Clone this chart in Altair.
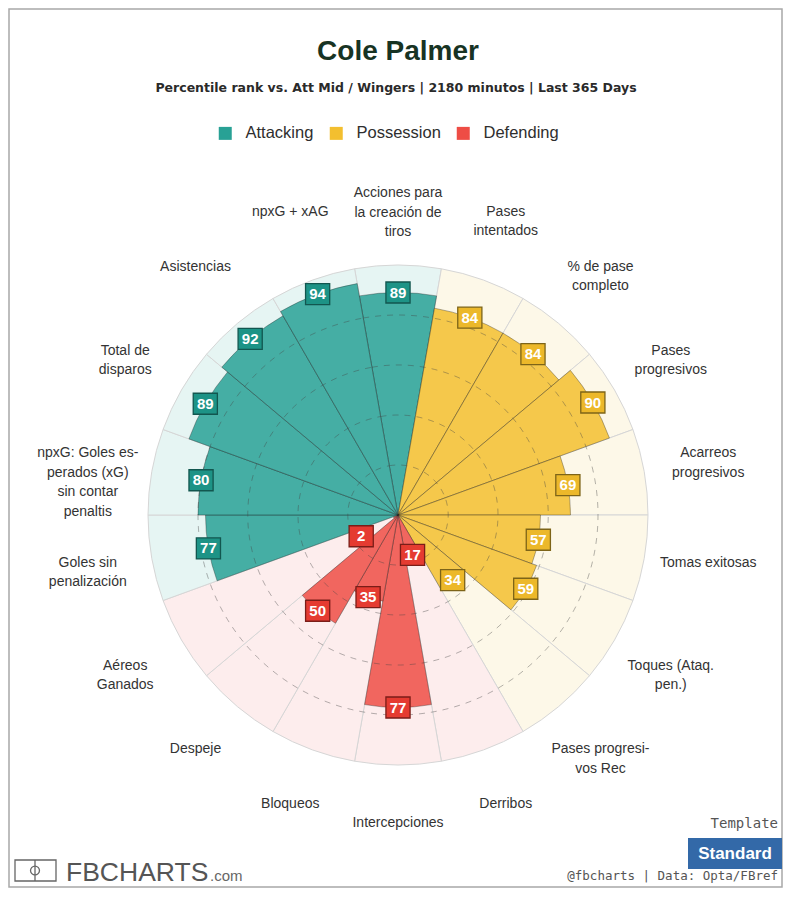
import math
import altair as alt
import pandas as pd

# ---------------- data ----------------
categories = [
    "Acciones para\nla creación de\ntiros",
    "Pases\nintentados",
    "% de pase\ncompleto",
    "Pases\nprogresivos",
    "Acarreos\nprogresivos",
    "Tomas exitosas",
    "Toques (Ataq.\npen.)",
    "Pases progresi-\nvos Rec",
    "Derribos",
    "Intercepciones",
    "Bloqueos",
    "Despeje",
    "Aéreos\nGanados",
    "Goles sin\npenalización",
    "npxG: Goles es-\nperados (xG)\nsin contar\npenaltis",
    "Total de\ndisparos",
    "Asistencias",
    "npxG + xAG",
]
values = [89, 84, 84, 90, 69, 57, 59, 34, 17, 77, 35, 50, 2, 77, 80, 89, 92, 94]
groups = ["Attacking", "Possession", "Possession", "Possession", "Possession",
          "Possession", "Possession", "Possession", "Defending", "Defending",
          "Defending", "Defending", "Defending", "Attacking", "Attacking",
          "Attacking", "Attacking", "Attacking"]
group_names = ["Attacking", "Possession", "Defending"]
grid_levels = [20, 40, 60, 80]

title_text = "Cole Palmer"
subtitle_text = "Percentile rank vs. Att Mid / Wingers | 2180 minutos | Last 365 Days"

bar_colors = ["#28a195", "#f3bf2f", "#ee4d45"]
bg_colors = ["#e6f5f3", "#fdf8e8", "#fdeded"]
box_colors = ["#1d9386", "#ecb82a", "#e53b31"]
box_borders = ["#12564f", "#7d6418", "#7a1d18"]

df = pd.DataFrame({"cat": categories, "value": values, "group": groups,
                   "i": list(range(len(categories)))})
grid_df = pd.DataFrame({"level": grid_levels})
one = pd.DataFrame({"k": [0]})

n = len(categories)
half = math.pi / n
theta_scale = alt.Scale(domain=[0, n], range=[-half, 2 * math.pi - half])
r_scale = alt.Scale(type="linear", domain=[0, 100], range=[0, 250])
x_scale = alt.Scale(domain=[-100, 100])
y_scale = alt.Scale(domain=[-100, 100])

FONT = "Liberation Sans"
RECT = "M-1.15,-1L1.15,-1L1.15,1L-1.15,1Z"

base = alt.Chart(df).transform_calculate(
    i2="datum.i + 1"
).transform_calculate(
    ic="datum.i + 0.5"
).transform_calculate(
    full="100"
)

bg = base.mark_arc(stroke="#d6d6d6", strokeWidth=1).encode(
    theta=alt.Theta("i:Q", scale=theta_scale, stack=False),
    theta2="i2:Q",
    radius=alt.Radius("full:Q", scale=r_scale),
    fill=alt.Fill("group:N", scale=alt.Scale(domain=group_names, range=bg_colors),
                  legend=None),
)

bars = base.mark_arc(stroke="#222222", strokeOpacity=0.35, strokeWidth=1,
                     fillOpacity=0.85).encode(
    theta=alt.Theta("i:Q", scale=theta_scale, stack=False),
    theta2="i2:Q",
    radius=alt.Radius("value:Q", scale=r_scale),
    color=alt.Color(
        "group:N",
        scale=alt.Scale(domain=group_names, range=bar_colors),
        legend=alt.Legend(
            title=None, orient="none", legendX=69, legendY=-140,
            direction="horizontal", symbolType="square", symbolSize=169,
            symbolStrokeWidth=0, symbolOpacity=1, labelFont=FONT,
            labelFontSize=16.5, labelColor="#2e2e2e", labelOffset=12,
            columnPadding=14,
        ),
    ),
)

grid = alt.Chart(grid_df).transform_calculate(a0="0").transform_calculate(
    a1=str(n)
).mark_arc(fillOpacity=0, stroke="#444444", strokeOpacity=0.4,
           strokeDash=[6, 6], strokeWidth=1).encode(
    theta=alt.Theta("a0:Q", scale=theta_scale, stack=False),
    theta2="a1:Q",
    radius=alt.Radius("level:Q", scale=r_scale),
)

pos = base.transform_calculate(
    lr="max(datum.value, 17)"
).transform_calculate(
    bx="datum.lr * sin(datum.i * 2 * PI / %d)" % n
).transform_calculate(
    by="datum.lr * cos(datum.i * 2 * PI / %d)" % n
)

boxes = pos.mark_point(shape=RECT, filled=True, size=441, opacity=1,
                       strokeWidth=1.3).encode(
    x=alt.X("bx:Q", scale=x_scale, axis=None),
    y=alt.Y("by:Q", scale=y_scale, axis=None),
    color=alt.Color("group:N", scale=alt.Scale(domain=group_names, range=box_colors),
                    legend=None),
    stroke=alt.Stroke("group:N", scale=alt.Scale(domain=group_names, range=box_borders),
                      legend=None),
)

box_text = pos.mark_text(color="white", font=FONT, fontWeight="bold", fontSize=15,
                         align="center", baseline="middle").encode(
    x=alt.X("bx:Q", scale=x_scale, axis=None),
    y=alt.Y("by:Q", scale=y_scale, axis=None),
    text="value:Q",
)

labels = base.transform_calculate(lab_r="126").mark_text(
    font=FONT, fontSize=14, color="#333333", lineBreak="\n", lineHeight=19.5,
    align="center", baseline="middle", dy=-7
).encode(
    theta=alt.Theta("ic:Q", scale=theta_scale, stack=False),
    radius=alt.Radius("lab_r:Q", scale=r_scale),
    text="cat:N",
)

# ---------------- title, decorations (footer / frame) ----------------
title = alt.Chart(one).mark_text(
    text=title_text, font=FONT, fontSize=28, fontWeight="bold", color="#173323",
    align="center", baseline="alphabetic").encode(x=alt.value(250), y=alt.value(-205))
subtitle = alt.Chart(one).mark_text(
    text=subtitle_text, font="DejaVu Sans", fontSize=12.5, fontWeight="bold",
    color="#2a2a2a", align="center", baseline="alphabetic").encode(
    x=alt.value(248), y=alt.value(-173))

frame = alt.Chart(one).mark_rect(fillOpacity=0, stroke="#a8a8a8", strokeWidth=1.5).encode(
    x=alt.value(-139), x2=alt.value(634), y=alt.value(-256), y2=alt.value(622))

logo_box = alt.Chart(one).mark_rect(fillOpacity=0, stroke="#666666", strokeWidth=1.3).encode(
    x=alt.value(-133), x2=alt.value(-92), y=alt.value(595), y2=alt.value(616))
logo_line = alt.Chart(one).mark_rule(color="#666666", strokeWidth=1.3).encode(
    x=alt.value(-113), y=alt.value(595), y2=alt.value(616))
logo_circle = alt.Chart(one).mark_point(shape="circle", size=80, filled=False,
                                        color="#666666", strokeWidth=1.3, opacity=1).encode(
    x=alt.value(-113), y=alt.value(605.5))
logo_text = alt.Chart(one).mark_text(
    text="FBCHARTS", font=FONT, fontSize=26.5, color="#555555", align="left",
    baseline="alphabetic").encode(x=alt.value(-82), y=alt.value(616))
logo_com = alt.Chart(one).mark_text(
    text=".com", font=FONT, fontSize=15, color="#666666", align="left",
    baseline="alphabetic").encode(x=alt.value(62), y=alt.value(616))

template_txt = alt.Chart(one).mark_text(
    text="Template", font="DejaVu Sans Mono", fontSize=14, color="#555555",
    align="right", baseline="middle").encode(x=alt.value(630), y=alt.value(559))
std_box = alt.Chart(one).mark_rect(color="#3369a8").encode(
    x=alt.value(540), x2=alt.value(634), y=alt.value(573), y2=alt.value(604))
std_txt = alt.Chart(one).mark_text(
    text="Standard", font=FONT, fontWeight="bold", fontSize=17, color="white",
    align="center", baseline="middle").encode(x=alt.value(587), y=alt.value(589))
credit = alt.Chart(one).mark_text(
    text="@fbcharts | Data: Opta/FBref", font="DejaVu Sans Mono", fontSize=12.5,
    color="#555555", align="right", baseline="alphabetic").encode(
    x=alt.value(630), y=alt.value(615))

chart = alt.layer(
    frame, bg, bars, grid, boxes, box_text, labels, title, subtitle,
    logo_box, logo_line, logo_circle, logo_text, logo_com,
    template_txt, std_box, std_txt, credit,
).resolve_scale(
    color="independent", fill="independent", stroke="independent"
).properties(
    width=500, height=500,
    background="white",
    padding={"left": 140, "top": 257, "right": 135, "bottom": 123},
    autosize=alt.AutoSizeParams(type="none"),
).configure_view(strokeWidth=0)

chart.save("out.html", embed_options={"renderer": "svg", "actions": False})
